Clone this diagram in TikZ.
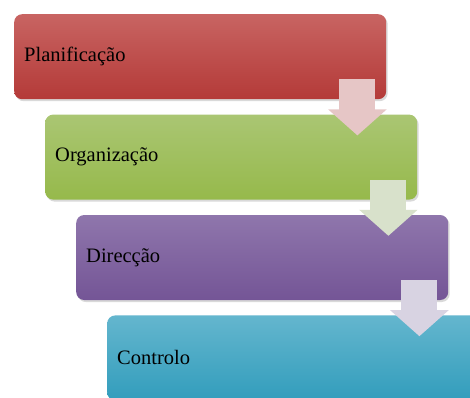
\documentclass[tikz,border=0pt]{standalone}
\usepackage{fontspec}
\setmainfont{Liberation Serif}
\usepackage{tikz}
\usetikzlibrary{arrows.meta,shadows,positioning}

\definecolor{redtop}{RGB}{200,100,98}
\definecolor{redbot}{RGB}{180,58,56}
\definecolor{greentop}{RGB}{170,198,115}
\definecolor{greenbot}{RGB}{150,185,75}
\definecolor{purpletop}{RGB}{143,118,172}
\definecolor{purplebot}{RGB}{116,85,150}
\definecolor{bluetop}{RGB}{100,182,206}
\definecolor{bluebot}{RGB}{50,157,188}
\definecolor{arrowred}{RGB}{230,198,198}
\definecolor{arrowgreen}{RGB}{216,225,203}
\definecolor{arrowpurple}{RGB}{216,211,226}

\begin{document}
\begin{tikzpicture}[x=1pt, y=-1pt]
% STYLES
\tikzset{
    stage/.style={rectangle, rounded corners=8pt, align=left,
    text width=352pt, inner xsep=10pt, minimum height=85pt,
    font=\fontsize{20.5}{24}\selectfont, text=black,
    drop shadow={shadow xshift=1.5pt, shadow yshift=-2pt, opacity=0.3}},
    flowarrow/.style={line width=36pt,
    -{Triangle[width=57pt,length=26pt]}}
}
\useasboundingbox (0,0) rectangle (470,397);
\clip (0,0) rectangle (470,397);

\node [stage, top color=redtop, bottom color=redbot, anchor=north west]
   (plan) at (14,14) {Planificação};
\node [stage, top color=greentop, bottom color=greenbot,
   below right=15pt and 31pt of plan.south west] (orga) {Organização};
\node [stage, top color=purpletop, bottom color=purplebot,
   below right=15pt and 31pt of orga.south west] (direc) {Direcção};
\node [stage, top color=bluetop, bottom color=bluebot,
   below right=15pt and 31pt of direc.south west] (contr) {Controlo};

% Draw the arrows between the stages
\draw[flowarrow, draw=arrowred, fill=arrowred]
   ([xshift=-29pt,yshift=20pt]plan.south east) -- ([xshift=-60pt,yshift=-21pt]orga.north east);
\draw[flowarrow, draw=arrowgreen, fill=arrowgreen]
   ([xshift=-29pt,yshift=20pt]orga.south east) -- ([xshift=-60pt,yshift=-21pt]direc.north east);
\draw[flowarrow, draw=arrowpurple, fill=arrowpurple]
   ([xshift=-29pt,yshift=20pt]direc.south east) -- ([xshift=-60pt,yshift=-21pt]contr.north east);

\end{tikzpicture}
\end{document}
